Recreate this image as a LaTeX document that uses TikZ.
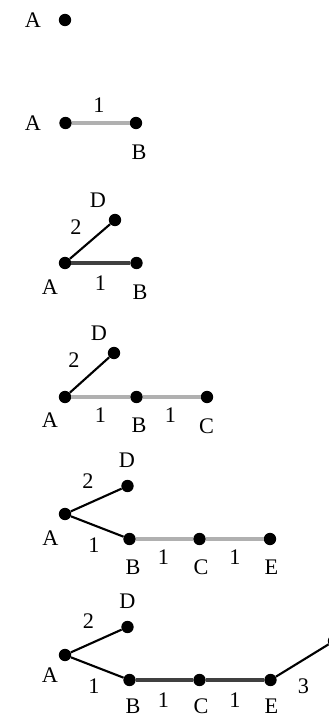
\documentclass[tikz,border=0pt]{standalone}
\usepackage{fontspec}
\setmainfont{Liberation Serif}
\usetikzlibrary{positioning}
\definecolor{edgegray}{RGB}{176,176,176}
\definecolor{edgedark}{RGB}{64,64,64}
\begin{document}
\begin{tikzpicture}[x=0.03cm, y=-0.03cm,
      vtx/.style={circle, fill=black, inner sep=0pt, minimum size=0.37cm},
      lbl/.style={inner sep=0pt, font=\fontsize{19}{21}\selectfont},
      candedge/.style={edgegray, line width=4.2pt},
      treeedge/.style={black, line width=1.8pt},
      newedge/.style={edgedark, line width=2.6pt}
    ]
    \useasboundingbox (0,0) rectangle (328,714);
    % step 1
    \node[vtx] (A1) at (65,20) {};
    \node[lbl] (lA1) at (33,20) {A};
    % step 2
    \node[vtx] (A2) at (65.5,123) {};
    \node[vtx] (B2) at (136,123) {};
    \node[lbl] (lA2) at (33,123) {A};
    \node[lbl] (lB2) at (139,152) {B};
    \node[lbl] (w2) at (99,105) {1};
    \draw[candedge] (A2) -- (B2);
    % step 3
    \node[vtx] (A3) at (65,263) {};
    \node[vtx] (B3) at (136.5,263) {};
    \node[vtx] (D3) at (115,220) {};
    \node[lbl] (lA3) at (50,287) {A};
    \node[lbl] (lB3) at (140,292) {B};
    \node[lbl] (lD3) at (98,200) {D};
    \node[lbl] (w3a) at (76,227) {2};
    \node[lbl] (w3b) at (100.5,283) {1};
    \draw[treeedge] (A3) -- (D3);
    \draw[newedge] (A3) -- (B3);
    % step 4
    \node[vtx] (A4) at (65,397) {};
    \node[vtx] (B4) at (136.5,397) {};
    \node[vtx] (C4) at (207,397) {};
    \node[vtx] (D4) at (114,353) {};
    \node[lbl] (lA4) at (50,420) {A};
    \node[lbl] (lB4) at (139,425) {B};
    \node[lbl] (lC4) at (206.5,426) {C};
    \node[lbl] (lD4) at (99,333) {D};
    \node[lbl] (w4a) at (74,360) {2};
    \node[lbl] (w4b) at (100.5,415) {1};
    \node[lbl] (w4c) at (170.5,415) {1};
    \draw[treeedge] (A4) -- (D4);
    \draw[candedge] (A4) -- (B4);
    \draw[candedge] (B4) -- (C4);
    % step 5
    \node[vtx] (A5) at (65,514) {};
    \node[vtx] (B5) at (129.5,539) {};
    \node[vtx] (C5) at (199.5,539) {};
    \node[vtx] (E5) at (270,539) {};
    \node[vtx] (D5) at (127.5,486) {};
    \node[lbl] (lA5) at (50.5,538) {A};
    \node[lbl] (lB5) at (133,567) {B};
    \node[lbl] (lC5) at (201,567) {C};
    \node[lbl] (lE5) at (271.5,567) {E};
    \node[lbl] (lD5) at (127,460) {D};
    \node[lbl] (w5a) at (88,481.5) {2};
    \node[lbl] (w5b) at (94,545) {1};
    \node[lbl] (w5c) at (163.5,557) {1};
    \node[lbl] (w5d) at (235,557) {1};
    \draw[treeedge] (A5) -- (D5);
    \draw[treeedge] (A5) -- (B5);
    \draw[candedge] (B5) -- (C5);
    \draw[candedge] (C5) -- (E5);
    % step 6
    \node[vtx] (A6) at (65,655) {};
    \node[vtx] (B6) at (129.5,680) {};
    \node[vtx] (C6) at (199.5,680) {};
    \node[vtx] (E6) at (270.5,680) {};
    \node[vtx] (D6) at (127.5,627) {};
    \node[vtx] (F6) at (334,641) {};
    \node[lbl] (lA6) at (50,675) {A};
    \node[lbl] (lB6) at (133,706.5) {B};
    \node[lbl] (lC6) at (201,706.5) {C};
    \node[lbl] (lE6) at (271.5,706.5) {E};
    \node[lbl] (lD6) at (127.5,601.5) {D};
    \node[lbl] (w6a) at (88.5,621.5) {2};
    \node[lbl] (w6b) at (94,686.5) {1};
    \node[lbl] (w6c) at (163.5,700) {1};
    \node[lbl] (w6d) at (235,700) {1};
    \node[lbl] (w6e) at (303.5,686.5) {3};
    \draw[treeedge] (A6) -- (D6);
    \draw[treeedge] (A6) -- (B6);
    \draw[newedge] (B6) -- (C6);
    \draw[newedge] (C6) -- (E6);
    \draw[treeedge] (E6) -- (F6);
  \end{tikzpicture}
\end{document}
